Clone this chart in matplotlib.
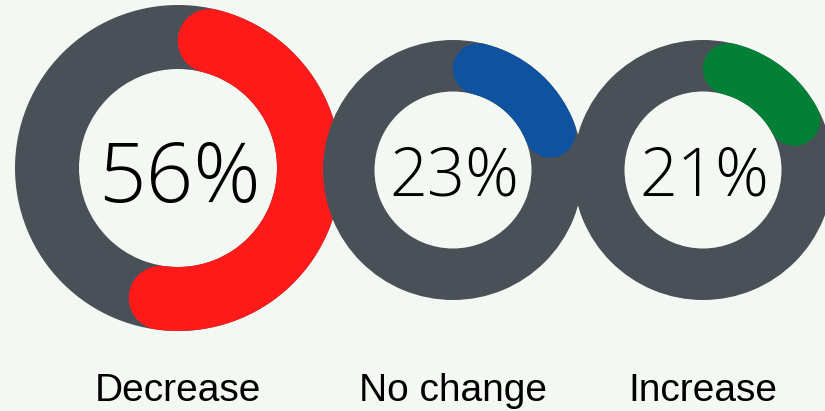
import numpy as np
import matplotlib.pyplot as plt
from matplotlib.patches import Wedge

labels = ['Decrease', 'No change', 'Increase']
percents = [56, 23, 21]
colors = ['#ff1a1a', '#0f52a0', '#037f36']

# layout (pixels, y down)
centers = [(178, 168), (453, 170), (703, 170)]
outer_r = [163, 130, 130]
inner_r = [99, 78.5, 78.5]
pct_size = [60, 48]
bg = '#f4f8f3'
ring_grey = '#4a5058'

dpi = 100
fig = plt.figure(figsize=(8.25, 4.11), dpi=dpi, facecolor=bg)
ax = fig.add_axes([0, 0, 1, 1])
ax.set_xlim(0, 825)
ax.set_ylim(411, 0)
ax.set_aspect('equal')
ax.axis('off')
ax.set_facecolor(bg)

for i, (lab, pct, col) in enumerate(zip(labels, percents, colors)):
    cx, cy = centers[i]
    ro, ri = outer_r[i], inner_r[i]
    w = ro - ri
    rm = (ro + ri) / 2
    z = 10 * i
    ax.add_patch(Wedge((cx, cy), ro, 0, 360, width=w, facecolor=ring_grey,
                       edgecolor='none', zorder=z))
    # coloured arc, clockwise from 12 o'clock, rounded ends
    cap = (w / 2) / rm
    th = np.linspace(cap, np.deg2rad(pct / 100 * 360) - cap, 200)
    ax.plot(cx + rm * np.sin(th), cy - rm * np.cos(th), color=col,
            lw=w * 72 / dpi, solid_capstyle='round', zorder=z + 1)
    fs = pct_size[0] if i == 0 else pct_size[1]
    ax.text(cx + 1, cy + (34 if i == 0 else 25), f'{pct}%', ha='center', va='baseline',
            fontsize=fs, fontfamily=['Open Sans', 'DejaVu Sans'], fontweight='light',
            color='black', zorder=z + 2)
    ax.text(cx, 401, lab, ha='center', va='baseline', fontsize=28,
            fontfamily=['Liberation Sans', 'DejaVu Sans'], color='black', zorder=30)

fig.savefig('out.png', dpi=dpi, facecolor=bg)
